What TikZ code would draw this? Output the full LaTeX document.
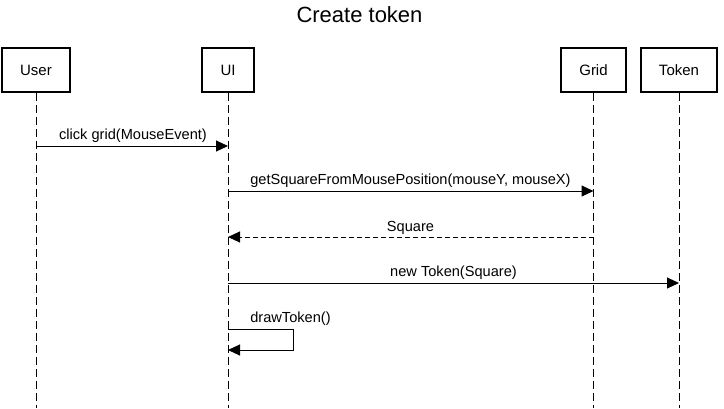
\documentclass[tikz,border=0pt]{standalone}
\usepackage{fontspec}
\setmainfont{Liberation Sans}
\usetikzlibrary{arrows.meta}
\begin{document}
\begin{tikzpicture}[x=1pt,y=-1pt,
  actor/.style={draw,line width=2.2pt,minimum width=#1,minimum height=44pt,inner sep=0pt,font=\fontsize{15}{18}\selectfont},
  life/.style={line width=1pt,dash pattern=on 8pt off 4pt},
  msg/.style={line width=1pt,-{Triangle[length=12pt,width=11pt]}},
  ret/.style={msg,dash pattern=on 5pt off 3pt},
  lbl/.style={font=\fontsize{14.6}{17}\selectfont,inner sep=0pt,anchor=base}]
\useasboundingbox (0,0) rectangle (724,408);
\node[font=\fontsize{22}{26}\selectfont,anchor=base] (title) at (359.5,22) {Create token};
\node[actor=68pt] (user) at (36,70) {User};
\node[actor=52pt] (ui) at (228,70) {UI};
\node[actor=65pt] (grid) at (593.5,70) {Grid};
\node[actor=76pt] (token) at (679,70) {Token};
\coordinate (userE) at (36,408);
\coordinate (uiE) at (228,408);
\coordinate (gridE) at (593.5,408);
\coordinate (tokenE) at (679,408);
\draw[life] (user.south) -- (userE);
\draw[life] (ui.south) -- (uiE);
\draw[life] (grid.south) -- (gridE);
\draw[life] (token.south) -- (tokenE);
% messages
\coordinate (m1a) at (36,146); \coordinate (m1b) at (228,146);
\draw[msg] (m1a) -- (m1b);
\node[lbl] (l1) at (133,139) {click grid(MouseEvent)};
\coordinate (m2a) at (228,191); \coordinate (m2b) at (593.5,191);
\draw[msg] (m2a) -- (m2b);
\node[lbl] (l2) at (410.5,184.5) {getSquareFromMousePosition(mouseY, mouseX)};
\coordinate (m3a) at (593.5,237); \coordinate (m3b) at (228,237);
\draw[ret] (m3a) -- (m3b);
\node[lbl] (l3) at (410.5,231) {Square};
\coordinate (m4a) at (228,283); \coordinate (m4b) at (679,283);
\draw[msg] (m4a) -- (m4b);
\node[lbl] (l4) at (453.5,276.5) {new Token(Square)};
\coordinate (m5a) at (228,329); \coordinate (m5b) at (228,350);
\draw[msg] (m5a) -- (293,329) -- (293,350) -- (m5b);
\node[lbl] (l5) at (290.5,322) {drawToken()};
\end{tikzpicture}
\end{document}
